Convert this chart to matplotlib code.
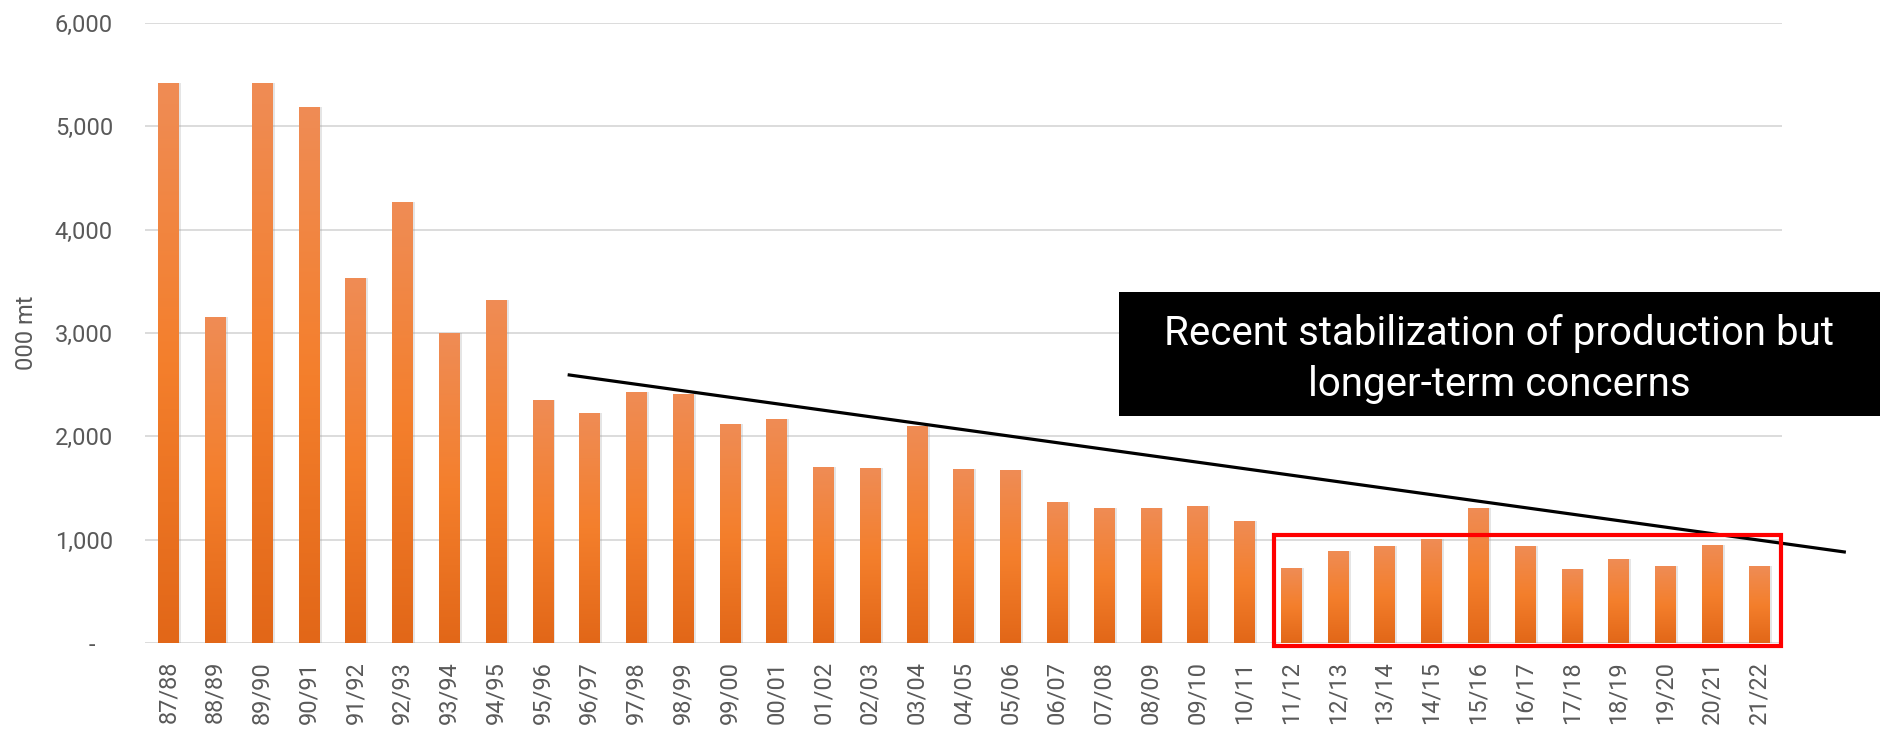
import numpy as np
import matplotlib.pyplot as plt
from matplotlib.colors import LinearSegmentedColormap
from matplotlib.patches import Rectangle

# seasons and production (000 mt)
seasons = ['87/88', '88/89', '89/90', '90/91', '91/92', '92/93', '93/94', '94/95',
           '95/96', '96/97', '97/98', '98/99', '99/00', '00/01', '01/02', '02/03',
           '03/04', '04/05', '05/06', '06/07', '07/08', '08/09', '09/10', '10/11',
           '11/12', '12/13', '13/14', '14/15', '15/16', '16/17', '17/18', '18/19',
           '19/20', '20/21', '21/22']
production = [5420, 3155, 5420, 5187, 3532, 4268, 3000, 3319,
              2348, 2223, 2426, 2410, 2119, 2165, 1703, 1690,
              2100, 1681, 1671, 1361, 1310, 1310, 1323, 1181,
              723, 894, 939, 1006, 1303, 939, 716, 810,
              745, 952, 745]

yticks = [0, 1000, 2000, 3000, 4000, 5000, 6000]
ytick_labels = ['-   ', '1,000', '2,000', '3,000', '4,000', '5,000', '6,000']

# trend line (category position, value) and highlight range
trend_x = [8.57, 35.83]
trend_y = [2594, 881]
box_x = [23.63, 34.47]
box_y = [-25, 1045]

note = ['Recent stabilization of production but', 'longer-term concerns']

fig = plt.figure(figsize=(18.83, 7.29), dpi=100)
ax = fig.add_axes([0.077, 0.118, 0.8694, 0.8504])

x = np.arange(len(seasons))
w = 0.43

# gridlines behind bars
for t in yticks:
    ax.axhline(t, color='#d9d9d9', lw=1.3, zorder=0)

# soft shadow to the right of each bar
ax.bar(x + 0.06, production, width=w, color='#9a9a9a', alpha=0.25, zorder=1)
bars = ax.bar(x, production, width=w, color='#f07e2e', zorder=2)

# vertical gradient in each bar
cmap = LinearSegmentedColormap.from_list('og', ['#e26718', '#f47f2c', '#ef8c55'])
grad = np.linspace(0, 1, 256).reshape(-1, 1)
for b in bars:
    bx = b.get_x()
    im = ax.imshow(grad, cmap=cmap, origin='lower', aspect='auto',
                   extent=[bx, bx + b.get_width(), 0, b.get_height()], zorder=3)
    im.set_clip_path(b)

ax.set_xlim(-0.5, len(seasons) - 0.5)
ax.set_ylim(0, 6000)

ax.set_xticks(x)
ax.set_xticklabels(seasons, rotation=90, fontsize=17, color='#595959', family='Roboto')
ax.set_yticks(yticks)
ax.set_yticklabels(ytick_labels, fontsize=17, color='#595959', family='Roboto')
ax.tick_params(axis='both', length=0)
ax.tick_params(axis='x', pad=13)
ax.tick_params(axis='y', pad=23)
for s in ax.spines.values():
    s.set_visible(False)

ax.set_ylabel('000 mt', fontsize=17, color='#595959', family='Roboto', va='center')
ax.yaxis.set_label_coords(-0.0724, 0.5)

# trend line and red highlight box
ax.plot(trend_x, trend_y, color='black', lw=2.3, clip_on=False, zorder=5)
ax.add_patch(Rectangle((box_x[0], box_y[0]), box_x[1] - box_x[0], box_y[1] - box_y[0],
                       fill=False, edgecolor='#ff0000', lw=3, clip_on=False, zorder=6))

# black note box
fig.patches.append(Rectangle((0.5943, 0.430), 0.4041, 0.1694, facecolor='black',
                             edgecolor='none', transform=fig.transFigure, figure=fig))
fig.text(0.796, 0.5267, note[0], color='white', fontsize=29, ha='center', va='baseline',
         family='Roboto')
fig.text(0.796, 0.4568, note[1], color='white', fontsize=29, ha='center', va='baseline',
         family='Roboto')

fig.savefig('out.png', dpi=100)
